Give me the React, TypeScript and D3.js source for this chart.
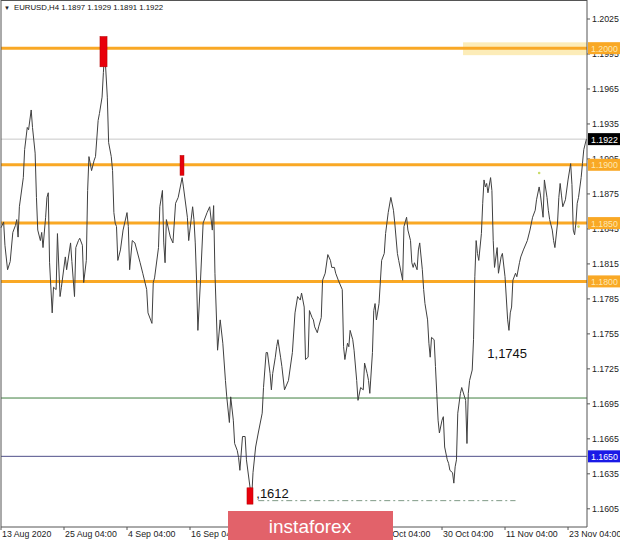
import * as d3 from "d3";

const W = 620;
const H = 540;
const PLOT_R = 587;
const PLOT_B = 527;

// close prices, [bar index, close]
const closes: [number, number][] = [
  [0, 1.1846], [2, 1.1851], [3, 1.1831], [5, 1.181], [7, 1.1817], [9, 1.1842], [11, 1.1848], [12, 1.1853],
  [13, 1.1838], [14, 1.1864], [17, 1.1889], [18, 1.1913], [20, 1.1932], [21, 1.193], [23, 1.1947], [24, 1.1932],
  [26, 1.191], [27, 1.1872], [28, 1.1844], [30, 1.1835], [31, 1.1842], [32, 1.1829], [34, 1.1855], [35, 1.1872],
  [36, 1.1876], [37, 1.1816], [39, 1.1773], [40, 1.1795], [42, 1.1793], [43, 1.1841], [45, 1.1787], [46, 1.1795],
  [49, 1.1821], [50, 1.181], [53, 1.1833], [54, 1.1817], [56, 1.1787], [57, 1.1829], [59, 1.1835], [60, 1.1837],
  [62, 1.1831], [63, 1.1799], [65, 1.1818], [66, 1.1878], [67, 1.1907], [69, 1.1895], [71, 1.1904], [72, 1.1907],
  [74, 1.1938], [75, 1.1944], [77, 1.1958], [78, 1.1979], [79, 1.1998], [81, 1.1958], [82, 1.1919], [84, 1.1907],
  [85, 1.1895], [86, 1.1859], [87, 1.185], [88, 1.1847], [89, 1.1818], [91, 1.1827], [93, 1.1844], [96, 1.1859],
  [97, 1.1847], [98, 1.181], [100, 1.1835], [102, 1.1833], [106, 1.1816], [108, 1.1807], [111, 1.1793], [112, 1.1773],
  [115, 1.1764], [116, 1.1799], [117, 1.1803], [120, 1.1829], [121, 1.1864], [123, 1.1878], [124, 1.1833], [125, 1.1816],
  [126, 1.1853], [129, 1.1838], [131, 1.1833], [133, 1.1867], [135, 1.1872], [138, 1.1889], [139, 1.1881], [142, 1.1855],
  [143, 1.1835], [146, 1.1864], [147, 1.1853], [148, 1.1833], [149, 1.1801], [150, 1.1758], [152, 1.1801], [154, 1.185],
  [157, 1.1859], [159, 1.1864], [161, 1.1844], [162, 1.1865], [163, 1.1807], [165, 1.1741], [167, 1.1767], [169, 1.1747],
  [171, 1.1715], [172, 1.1701], [174, 1.1679], [175, 1.1701], [177, 1.1681], [178, 1.1661], [180, 1.1655], [181, 1.1649],
  [182, 1.1638], [184, 1.1667], [186, 1.1667], [187, 1.1647], [190, 1.1621], [191, 1.1615], [192, 1.1636], [194, 1.1658],
  [196, 1.167], [199, 1.1687], [200, 1.1709], [202, 1.1739], [203, 1.1739], [205, 1.1721], [206, 1.1707], [207, 1.1721],
  [209, 1.1735], [210, 1.1744], [211, 1.175], [213, 1.1735], [214, 1.1727], [216, 1.1707], [219, 1.1715], [222, 1.1739],
  [224, 1.1773], [226, 1.1787], [228, 1.1784], [229, 1.179], [231, 1.1778], [232, 1.1733], [234, 1.1735], [235, 1.1775],
  [237, 1.1769], [238, 1.1767], [239, 1.1761], [241, 1.1756], [242, 1.1761], [244, 1.1769], [245, 1.1801], [247, 1.1807],
  [249, 1.1823], [251, 1.1818], [252, 1.1812], [254, 1.1812], [255, 1.1807], [257, 1.1801], [260, 1.1793], [261, 1.1744],
  [262, 1.1733], [264, 1.1747], [265, 1.1744], [266, 1.1758], [268, 1.175], [269, 1.1741], [271, 1.1715], [272, 1.1698],
  [274, 1.1709], [276, 1.1707], [277, 1.173], [279, 1.1721], [280, 1.1715], [281, 1.1704], [283, 1.1739], [284, 1.1775],
  [285, 1.1781], [286, 1.1767], [288, 1.1781], [290, 1.1818], [292, 1.1824], [293, 1.1841], [295, 1.1859], [297, 1.1872],
  [299, 1.1861], [300, 1.185], [302, 1.1824], [303, 1.1818], [306, 1.1801], [307, 1.1847], [309, 1.1855], [310, 1.1844],
  [312, 1.1835], [313, 1.1816], [314, 1.1812], [315, 1.1816], [317, 1.181], [318, 1.1827], [319, 1.1833], [321, 1.181],
  [322, 1.1793], [323, 1.1781], [325, 1.1767], [326, 1.1747], [327, 1.1735], [328, 1.1752], [330, 1.175], [331, 1.1727],
  [332, 1.1704], [333, 1.1681], [334, 1.167], [336, 1.1681], [337, 1.1684], [338, 1.1658], [340, 1.1647], [341, 1.1644],
  [342, 1.1638], [344, 1.1636], [345, 1.1627], [346, 1.1641], [347, 1.1647], [348, 1.1687], [350, 1.1704], [351, 1.1709],
  [354, 1.1698], [355, 1.1661], [356, 1.1704], [357, 1.1715], [359, 1.1724], [360, 1.175], [361, 1.1804], [362, 1.1835],
  [363, 1.1824], [364, 1.1818], [366, 1.1841], [367, 1.1867], [368, 1.1887], [369, 1.1881], [370, 1.1884], [371, 1.1876],
  [373, 1.1889], [374, 1.1878], [375, 1.1835], [376, 1.1812], [378, 1.1829], [379, 1.1807], [381, 1.1821], [382, 1.1824],
  [384, 1.1804], [386, 1.1767], [387, 1.1758], [388, 1.1773], [389, 1.1778], [390, 1.1801], [392, 1.1807], [393, 1.1804],
  [395, 1.1816], [396, 1.1821], [398, 1.1827], [401, 1.1835], [403, 1.1844], [405, 1.1855], [407, 1.1861], [408, 1.187],
  [410, 1.1881], [411, 1.1874], [413, 1.1855], [414, 1.1887], [416, 1.1872], [417, 1.1861], [418, 1.1853], [420, 1.1844],
  [421, 1.1835], [422, 1.1829], [424, 1.185], [425, 1.1872], [426, 1.1884], [427, 1.1874], [428, 1.1864], [430, 1.187],
  [432, 1.1887], [434, 1.1901], [435, 1.1883], [436, 1.1844], [437, 1.184], [438, 1.185], [439, 1.1867], [440, 1.1872],
  [442, 1.1889], [443, 1.1901], [444, 1.1913], [446, 1.1922],
];

const dateTicks = [0, 48, 96, 144, 192, 240, 288, 336, 384, 432];
const dateLabels = [
  "13 Aug 2020", "25 Aug 04:00", "4 Sep 04:00", "16 Sep 04:00", "28 Sep 04:00",
  "8 Oct 04:00", "20 Oct 04:00", "30 Oct 04:00", "11 Nov 04:00", "23 Nov 04:00",
];
const priceTicks = [1.2025, 1.1995, 1.1965, 1.1935, 1.1905, 1.1875, 1.1845, 1.1815, 1.1785, 1.1755, 1.1725, 1.1695, 1.1665, 1.1635, 1.1605];

const orangeLevels = [1.2, 1.19, 1.185, 1.18];
const greenLevel = 1.17;
const blueLevel = 1.165;
const lastPrice = 1.1922;
const zone = { from: 352, lo: 1.1994, hi: 1.2005 };
const extremes = [
  { from: 75.4, to: 80.8, hi: 1.201, lo: 1.1984 },
  { from: 136.4, to: 139.4, hi: 1.1908, lo: 1.1891 },
  { from: 187.4, to: 192, hi: 1.1623, lo: 1.1609 },
];
const lowLine = { price: 1.1612, from: 196, to: 392 };
const notes = [
  { bar: 194.5, price: 1.1614, text: ",1612" },
  { bar: 370.5, price: 1.1734, text: "1,1745" },
];
const dots: [number, number][] = [[410, 1.1893], [440, 1.1847]];

const x = d3.scaleLinear().domain([0, 446]).range([1, 586.4]);
const y = d3.scaleLinear().domain([1.15894, 1.20413]).range([PLOT_B, 0]);
const line = d3.line<[number, number]>().x((d) => x(d[0])).y((d) => y(d[1]));
const fmt = d3.format(".4f");

const FONT = "'Liberation Sans', Arial, sans-serif";
const ORANGE = "#f9a825";

const PriceTag = ({ price, fill, color }: { price: number; fill: string; color: string }) => (
  <g>
    <rect x={PLOT_R + 1} y={y(price) - 6} width={W - PLOT_R - 1} height={12} fill={fill} />
    <text x={PLOT_R + 4} y={y(price) + 3.5} fontSize={8.8} fill={color} fontFamily={FONT}>
      {fmt(price)}
    </text>
  </g>
);

export default function App() {
  return (
    <svg width={W} height={H} style={{ position: "absolute", left: 0, top: 0, background: "#fff" }}>
      <rect width={W} height={H} fill="#fff" />

      {/* resistance zone */}
      <rect x={x(zone.from)} y={y(zone.hi)} width={PLOT_R - x(zone.from)} height={y(zone.lo) - y(zone.hi)} fill="#fbe7a6" opacity={0.8} />

      <line x1={1} x2={PLOT_R} y1={y(lastPrice)} y2={y(lastPrice)} stroke="#c8c8c8" />
      <line x1={1} x2={PLOT_R} y1={y(greenLevel)} y2={y(greenLevel)} stroke="#3f7f3f" />
      <line x1={1} x2={PLOT_R} y1={y(blueLevel)} y2={y(blueLevel)} stroke="#50508a" />
      {orangeLevels.map((p) => (
        <line key={p} x1={1} x2={PLOT_R} y1={y(p)} y2={y(p)} stroke={ORANGE} strokeWidth={3} />
      ))}

      <line
        x1={x(lowLine.from)} x2={x(lowLine.to)} y1={y(lowLine.price)} y2={y(lowLine.price)}
        stroke="#7f9a86" strokeDasharray="6,3,2,3"
      />

      <path d={line(closes) ?? ""} fill="none" stroke="#404040" strokeWidth={1} />

      {extremes.map((e, i) => (
        <rect key={i} x={x(e.from)} y={y(e.hi)} width={x(e.to) - x(e.from)} height={y(e.lo) - y(e.hi)} fill="#e8000b" stroke="#b00000" strokeWidth={0.5} />
      ))}
      {dots.map((d, i) => (
        <circle key={i} cx={x(d[0])} cy={y(d[1])} r={1.3} fill="#c9dc6a" />
      ))}

      {notes.map((n) => (
        <text key={n.text} x={x(n.bar)} y={y(n.price)} fontSize={13} fill="#111" fontFamily={FONT}>
          {n.text}
        </text>
      ))}

      {/* frame and axes */}
      <line x1={1} x2={1} y1={0} y2={PLOT_B} stroke="#555" />
      <line x1={PLOT_R} x2={PLOT_R} y1={0} y2={PLOT_B} stroke="#555" />
      <line x1={1} x2={PLOT_R} y1={PLOT_B} y2={PLOT_B} stroke="#555" />
      <line x1={1} x2={PLOT_R} y1={0.5} y2={0.5} stroke="#555" />

      {priceTicks.map((p) => (
        <g key={p}>
          <line x1={PLOT_R} x2={PLOT_R + 3} y1={y(p)} y2={y(p)} stroke="#555" />
          <text x={PLOT_R + 5} y={y(p) + 3} fontSize={8.8} fill="#222" fontFamily={FONT}>
            {fmt(p)}
          </text>
        </g>
      ))}

      {dateTicks.map((b, i) => (
        <g key={b}>
          <line x1={x(b)} x2={x(b)} y1={PLOT_B} y2={PLOT_B + 3} stroke="#555" />
          <text x={x(b) + 1} y={537} fontSize={8.8} fill="#222" fontFamily={FONT}>
            {dateLabels[i]}
          </text>
        </g>
      ))}

      {orangeLevels.map((p) => (
        <PriceTag key={p} price={p} fill={ORANGE} color="#fde7b0" />
      ))}
      <PriceTag price={lastPrice} fill="#000" color="#fff" />
      <PriceTag price={blueLevel} fill="#1a1ae6" color="#fff" />

      {/* header */}
      <text x={4} y={10} fontSize={6} fill="#222">▼</text>
      <text x={14} y={10} fontSize={7.8} fill="#111" fontFamily={FONT}>
        EURUSD,H4  1.1897 1.1929 1.1891 1.1922
      </text>

      {/* watermark */}
      <rect x={228} y={511} width={165} height={29} fill="#e2626a" />
      <text x={310} y={533} textAnchor="middle" fontSize={19} fill="#fff" fontFamily={FONT}>
        instaforex
      </text>
    </svg>
  );
}
